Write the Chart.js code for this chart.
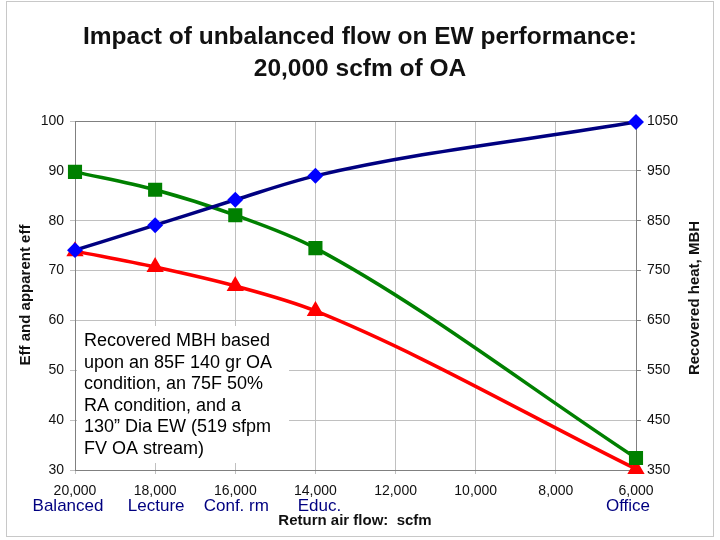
<!DOCTYPE html>
<html>
<head>
<meta charset="utf-8">
<script src="https://cdn.jsdelivr.net/npm/chart.js@4"></script>
<style>
  body { margin: 0; background: #fff; }
  #wrap { width: 720px; height: 540px; position: relative; }
</style>
</head>
<body>
<div id="wrap"><canvas id="grafico" width="720" height="540"></canvas></div>
<script>
// valori
var portate = [20000, 18000, 16000, 14000, 6000];
var ambienti = ['Balanced', 'Lecture', 'Conf. rm', 'Educ.', 'Office'];
var caloreRecuperato = [791, 841, 892, 940, 1048];
var efficienza = [89.8, 86.2, 81.1, 74.5, 32.4];
var efficienzaApparente = [73.9, 70.7, 66.9, 61.9, 30.2];

var titolo = ['Impact of unbalanced flow on EW performance:', '20,000 scfm of OA'];
var nota = ['Recovered MBH based', 'upon an 85F 140 gr OA', 'condition, an 75F 50%',
            'RA condition, and a', '130\u201d Dia EW (519 sfpm', 'FV OA stream)'];

function punti (valori) {
    return portate.map(function (x, i) { return { x: x, y: valori[i] }; });
}

var testi = {
    id: 'testi',
    beforeDraw: function (chart) {
        var c = chart.ctx;
        c.save();
        c.fillStyle = '#fff';
        c.fillRect(0, 0, chart.width, chart.height);
        c.strokeStyle = '#c8c8c8';
        c.lineWidth = 1;
        c.strokeRect(6.5, 1.5, 707, 535);
        c.restore();
    },
    beforeDatasetsDraw: function (chart) {
        var c = chart.ctx;
        var a = chart.chartArea;
        c.save();
        c.strokeStyle = '#808080';
        c.lineWidth = 1;
        c.strokeRect(a.left + 0.5, a.top + 0.5, a.right - a.left, a.bottom - a.top);
        // riquadro nota
        c.fillStyle = '#fff';
        c.fillRect(a.left + 2, 326, 212, 137);
        c.fillStyle = '#000';
        c.font = '18px "Liberation Sans", Arial, sans-serif';
        c.textBaseline = 'alphabetic';
        c.textAlign = 'left';
        nota.forEach(function (riga, i) {
            c.fillText(riga, 84, 346 + i * 21.5);
        });
        c.restore();
    },
    afterDraw: function (chart) {
        var c = chart.ctx;
        var x = chart.scales.x;
        c.save();
        c.fillStyle = '#111';
        c.textAlign = 'center';
        c.font = 'bold 24.5px "Liberation Sans", Arial, sans-serif';
        c.fillText(titolo[0], 360, 44);
        c.fillText(titolo[1], 360, 76);

        c.font = 'bold 15px "Liberation Sans", Arial, sans-serif';
        c.fillText('Return air flow:  scfm', 355, 525);

        c.save();
        c.translate(30, 295);
        c.rotate(-Math.PI / 2);
        c.fillText('Eff and apparent eff', 0, 0);
        c.restore();
        c.save();
        c.translate(699, 298);
        c.rotate(-Math.PI / 2);
        c.fillText('Recovered heat, MBH', 0, 0);
        c.restore();

        c.fillStyle = '#000080';
        c.font = '17px "Liberation Sans Narrow", "Liberation Sans", Arial, sans-serif';
        var spost = [-7, 1, 1, 4, -8];
        ambienti.forEach(function (nome, i) {
            c.fillText(nome, x.getPixelForValue(portate[i]) + spost[i], 511);
        });
        c.restore();
    }
};

var fontTick = { size: 14, family: '"Liberation Sans", Arial, sans-serif' };

var ctx = document.getElementById('grafico');
new Chart(ctx, {
    type: 'line',
    data: {
        datasets: [{
            label: 'Recovered MBH',
            data: punti(caloreRecuperato),
            yAxisID: 'y1',
            borderColor: '#000080',
            backgroundColor: '#0000ff',
            pointBorderColor: '#0000ff',
            pointStyle: 'rectRot',
            pointRadius: 5.5,
            borderWidth: 3.5,
            cubicInterpolationMode: 'monotone',
            clip: false
        }, {
            label: 'Eff',
            data: punti(efficienza),
            yAxisID: 'y',
            borderColor: '#008000',
            backgroundColor: '#008000',
            pointStyle: 'rect',
            pointRadius: 7.5,
            borderWidth: 3.5,
            cubicInterpolationMode: 'monotone',
            clip: false
        }, {
            label: 'Apparent eff',
            data: punti(efficienzaApparente),
            yAxisID: 'y',
            borderColor: '#ff0000',
            backgroundColor: '#ff0000',
            pointStyle: 'triangle',
            pointRadius: 6.5,
            borderWidth: 3.5,
            cubicInterpolationMode: 'monotone',
            clip: false
        }]
    },
    options: {
        responsive: false,
        animation: false,
        devicePixelRatio: 1,
        layout: { padding: { left: 0, right: 0, top: 121, bottom: 0 } },
        plugins: { legend: { display: false }, tooltip: { enabled: false } },
        scales: {
            x: {
                type: 'linear',
                reverse: true,
                min: 6000,
                max: 20000,
                afterFit: function (s) { s.height = 70; },
                ticks: {
                    stepSize: 2000,
                    autoSkip: false,
                    color: '#111',
                    font: fontTick,
                    padding: 9,
                    maxRotation: 0,
                    callback: function (v) { return v.toLocaleString('en-US'); }
                },
                grid: { color: '#c0c0c0', tickLength: 4 },
                border: { color: '#808080' }
            },
            y: {
                position: 'left',
                min: 30,
                max: 100,
                afterFit: function (s) { s.width = 75; },
                ticks: {
                    stepSize: 10,
                    color: '#111',
                    font: fontTick,
                    padding: 6
                },
                grid: { color: '#c0c0c0', tickLength: 5 },
                border: { color: '#808080' }
            },
            y1: {
                position: 'right',
                min: 350,
                max: 1050,
                afterFit: function (s) { s.width = 84; },
                ticks: {
                    stepSize: 100,
                    color: '#111',
                    font: fontTick,
                    padding: 6,
                    callback: function (v) { return String(v); }
                },
                grid: { drawOnChartArea: false, color: '#808080', tickLength: 5 },
                border: { color: '#808080' }
            }
        }
    },
    plugins: [testi]
});
</script>
</body>
</html>
